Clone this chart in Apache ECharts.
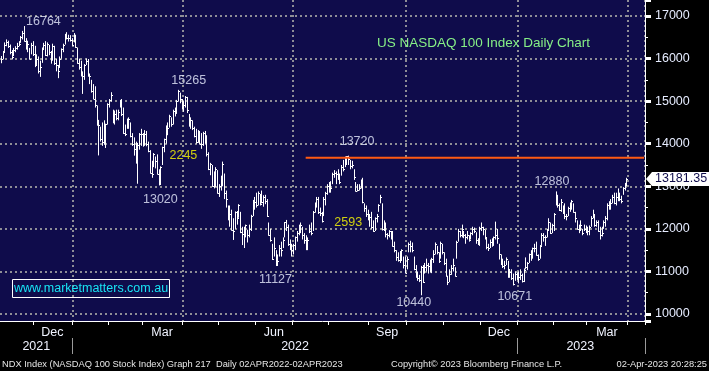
<!DOCTYPE html>
<html><head><meta charset="utf-8">
<script src="https://cdn.jsdelivr.net/npm/echarts@6/dist/echarts.min.js"></script>
<style>html,body{margin:0;padding:0;background:#000;}#c{width:709px;height:371px;}</style>
</head><body><div id="c"></div>
<script>
// ---- calendar (trading days, incl. some blank days after the last bar) ----
const holidays = ['2021-11-25','2021-12-24','2022-01-17','2022-02-21','2022-04-15','2022-05-30','2022-06-20','2022-07-04','2022-09-05','2022-11-24','2022-12-26','2023-01-02','2023-01-16','2023-02-20','2023-04-07'];
const firstDay = '2021-11-03', lastDay = '2023-04-17';

// ---- daily bars, Nov-2021 .. Mar-2023 ----
const closes = [
16000,16150,16330,16400,16300,16150,16030,16200,16250,16300,16350,16500,16600,16420,16300,16350,16000,16330,16100,
15850,16000,15700,15800,16240,16330,16080,16350,16150,15980,16300,15900,15860,15700,16000,16220,16330,16560,16480,16480,16430,16320,
16500,16280,15900,15800,15630,15600,15850,15950,15600,15600,15230,15060,14900,14450,14450,14100,14050,14000,14460,14930,
15020,15140,14500,14700,14600,14750,15020,14700,14250,14230,14560,14580,14170,13990,13870,13550,13980,14220,14240,
13990,14240,13990,13840,13320,13280,13750,13600,13300,13050,13450,13920,14100,14420,14380,14650,14470,14780,14790,15000,15240,15040,14840,
14900,15100,14800,14470,14550,14380,14180,14050,14300,14000,14000,14250,14050,13760,13400,13530,13000,13100,13400,12850,
13000,13100,13530,12850,12700,12250,12350,11970,11940,12390,12260,12560,11930,11880,11850,12080,11850,12000,12300,12650,12640,
12550,12850,12580,12620,12750,12650,12300,11850,11750,11300,11550,11150,11250,11550,11500,11750,12150,12050,11650,11600,11500,
11620,11800,11900,12050,12100,11850,11750,11700,11750,11950,11900,12400,12600,12700,12400,12380,12180,12700,12850,13000,
13000,12950,13300,13320,13280,13250,13100,13450,13400,13650,13700,13650,13480,13500,13220,12900,12920,12970,13150,12620,12500,12350,12270,
12280,12050,11950,12250,12300,12550,12750,12000,12100,11880,11850,11950,11820,11600,11500,11350,11260,11280,11500,11160,10970,
11300,11650,11600,11500,11050,10900,10850,10800,11100,10750,11100,11150,11120,11050,11300,11400,11650,11450,11250,11670,11450,
11200,10900,10750,10950,11080,11150,10900,11700,11950,11850,12000,11850,11800,11850,11750,11900,12000,11950,11750,11650,12030,
12050,12000,11800,11580,11550,11700,11650,11800,11850,11780,11400,11250,11120,11150,11300,11050,10980,10850,10700,10950,10940,
10860,10920,10780,11040,11110,11200,11400,11460,11540,11550,11380,11300,11600,11850,11800,11810,12000,12150,11900,12100,
12350,12800,12570,12450,12620,12390,12300,12300,12500,12550,12650,12400,12250,12000,12000,12080,11900,12000,11980,
11950,12050,12250,12300,12100,12150,11950,11850,11900,12150,12250,12550,12520,12600,12750,12600,12750,12800,12700,12650,12950,13050,13181.35
];
const highs = [
16060,16180,16380,16450,16420,16330,16200,16250,16290,16370,16410,16530,16650,16764,16480,16420,16250,16370,16410,
16300,16100,16050,15950,16260,16370,16410,16380,16320,16180,16350,16300,15990,15850,16050,16240,16350,16580,16620,16560,16550,16480,
16600,16560,16260,16000,15950,15700,15870,16000,15990,15650,15500,15400,15350,14900,14560,14400,14500,14550,14470,14950,
15050,15210,14800,14780,14800,14800,15030,15050,14850,14450,14590,14620,14500,14250,14150,14050,14020,14250,14350,
14250,14320,14300,14050,13850,13600,13780,13700,13750,13400,13470,13930,14120,14430,14500,14680,14620,14800,14850,15030,15265,15200,15050,
15000,15120,15100,14700,14620,14550,14400,14350,14320,14300,14250,14280,14300,14200,13800,13550,13500,13350,13450,13380,
13050,13250,13580,13300,12900,12550,12550,12450,12250,12410,12420,12580,12400,12050,12050,12100,11980,12100,12330,12680,12750,
12850,12880,12820,12900,12790,12800,12700,12150,12000,11650,11800,11500,11400,11620,11700,11800,12160,12210,12100,11750,11650,
11650,11820,11950,12100,12150,12050,11900,11850,11800,12100,12150,12420,12620,12750,12750,12500,12400,12750,12870,13050,
13100,13120,13320,13380,13350,13400,13300,13500,13620,13700,13710,13720,13620,13600,13400,13100,13050,13050,13160,13200,12600,12550,12450,
12350,12400,12200,12270,12350,12580,12800,12600,12200,12150,11900,11970,11950,11950,11700,11500,11450,11480,11520,11350,11350,
11350,11680,11720,11680,11350,11150,11000,10920,11130,11150,11200,11300,11200,11280,11320,11500,11680,11600,11450,11700,11650,
11450,11300,10900,11050,11150,11300,11100,11720,12000,11950,12100,11950,11880,11950,11850,11920,12050,12030,11920,11780,12050,
12150,12050,11980,11800,11650,11750,11780,11820,12170,12000,11650,11400,11300,11250,11330,11250,11050,11050,10950,11000,10980,
11000,11050,10950,11070,11330,11220,11420,11500,11560,11650,11700,11400,11620,11900,11900,11850,12000,12250,12150,12120,
12370,12880,12800,12600,12700,12550,12600,12350,12520,12620,12680,12600,12400,12200,12100,12200,12000,12100,12080,
12050,12080,12300,12450,12350,12200,12200,12050,12050,12200,12300,12600,12650,12700,12800,12850,12850,12950,12850,12780,12980,13080,13200
];
const lows = [
15890,15980,16150,16290,16250,16100,15980,16060,16150,16210,16290,16370,16450,16400,16210,16150,15980,16100,16060,
15800,15850,15650,15570,15900,16200,16060,16050,16080,15880,15950,15850,15700,15540,15780,16000,16150,16330,16450,16400,16400,16300,
16380,16250,15880,15740,15580,15170,15500,15850,15580,15400,15200,15050,14850,14430,13725,14050,13950,13980,13900,14450,
14850,14990,14480,14450,14550,14550,14850,14650,14230,14180,14350,14350,14150,13950,13720,13540,13060,13860,13950,
13930,13950,13940,13800,13300,13200,13450,13420,13280,13020,13050,13500,13800,14000,14200,14380,14400,14450,14640,14700,14990,14950,14800,
14750,14850,14720,14400,14350,14320,14150,14000,14020,13990,13880,13950,14000,13700,13380,13260,12990,12950,12980,12830,
12750,12900,13000,12700,12500,12200,12050,11960,11740,12000,12100,12260,11900,11620,11550,11800,11680,11800,11950,12300,12450,
12500,12550,12550,12600,12520,12580,12280,11840,11700,11270,11350,11127,11130,11350,11350,11550,11800,11950,11600,11500,11350,
11400,11500,11700,11850,11900,11750,11650,11500,11500,11900,11850,11950,12380,12500,12350,12300,12150,12300,12550,12800,
12850,12850,13050,13200,13050,13150,13050,13250,13350,13450,13500,13500,13400,13420,13150,12880,12880,12900,12950,12600,12400,12280,12200,
12050,12000,11930,11950,12150,12400,12600,11960,11950,11800,11750,11800,11750,11580,11450,11250,11230,11200,11250,11070,10960,
11050,11450,11450,11450,11030,10850,10780,10750,10440,10730,10950,11000,10950,10980,10960,11200,11400,11400,11200,11300,11400,
11150,10880,10680,10750,10920,11000,10880,11300,11700,11800,11800,11780,11650,11750,11700,11750,11850,11900,11650,11620,11600,
11950,11850,11750,11520,11480,11550,11580,11600,11750,11650,11280,11150,11080,11050,11150,10850,10850,10800,10671,10780,10800,
10720,10800,10740,10750,11050,11030,11200,11250,11300,11450,11370,11250,11300,11600,11700,11600,11800,11950,11880,11900,
11950,12550,12500,12420,12400,12350,12230,12200,12300,12400,12450,12380,12150,11980,11900,11950,11850,11950,11900,
11850,11850,12050,12250,12050,12050,11930,11750,11820,12000,12050,12200,12450,12450,12600,12580,12550,12650,12650,12600,12800,12900,13000
];
const lastPrice = 13181.35;
const resistanceLevel = 13670;
const yTickMin = 9836, yTickMax = 17376;
const monthNames = {'12':'Dec','03':'Mar','06':'Jun','09':'Sep'};

// annotations: [text, category index, price, colour]
const notes = [
  ['16764', 24, 16860, '#e8eeff'],
  ['15265', 106, 15473, '#e8eeff'],
  ['2245', 103, 13711, '#ffff00'],
  ['13020', 90, 12678, '#e8eeff'],
  ['13720', 201, 14040, '#e8eeff'],
  ['2593', 196, 12138, '#ffff00'],
  ['11127', 155, 10799, '#e8eeff'],
  ['10440', 233, 10258, '#e8eeff'],
  ['10671', 290, 10399, '#e8eeff'],
  ['12880', 311, 13101, '#e8eeff']
];

function tradingDays(a, b) {
  const out = [];
  let d = new Date(a + 'T00:00:00Z');
  const end = new Date(b + 'T00:00:00Z');
  while (d <= end) {
    const wd = d.getUTCDay();
    const s = d.toISOString().slice(0, 10);
    if (wd !== 0 && wd !== 6 && holidays.indexOf(s) < 0) out.push(s);
    d = new Date(d.getTime() + 86400000);
  }
  return out;
}
const cats = tradingDays(firstDay, lastDay);

// month / quarter / year boundaries
const monthStart = new Set(), quarterStart = new Set(), yearStart = new Set();
const monthRanges = {};
cats.forEach((d, i) => {
  const ym = d.slice(0, 7);
  if (!monthRanges[ym]) monthRanges[ym] = [i, i]; else monthRanges[ym][1] = i;
  if (i > 0 && ym !== cats[i - 1].slice(0, 7)) {
    monthStart.add(i);
    const m = d.slice(5, 7);
    if (m === '01' || m === '04' || m === '07' || m === '10') quarterStart.add(i);
    if (m === '01') yearStart.add(i);
  }
});
const monthLabelIdx = new Map();
Object.keys(monthRanges).forEach(ym => {
  const m = ym.slice(5, 7);
  const r = monthRanges[ym];
  if (monthNames[m] && r[0] < closes.length) monthLabelIdx.set(Math.floor((r[0] + r[1]) / 2), monthNames[m]);
});
const yearRanges = {};
cats.forEach((d, i) => { const y = d.slice(0, 4); if (!yearRanges[y]) yearRanges[y] = [i, i]; else yearRanges[y][1] = i; });
const yearLabelIdx = new Map();
Object.keys(yearRanges).forEach(y => { const r = yearRanges[y]; yearLabelIdx.set(Math.floor((r[0] + r[1]) / 2), y); });

const barData = closes.map((c, i) => [i, highs[i], lows[i], c]);

const FONT = 'Liberation Sans';
const gridLine = {color: '#8e8e96', width: 2, type: [2, 3]};

const chart = echarts.init(document.getElementById('c'), null, {renderer: 'canvas'});
chart.setOption({
  animation: false,
  backgroundColor: '#000',
  grid: {left: 0, top: 0, right: 64, bottom: 50, show: true, backgroundColor: '#0f0c4b', borderWidth: 0},
  xAxis: [{
    type: 'category', data: cats, boundaryGap: true,
    axisLine: {show: true, lineStyle: {color: '#ffffff', width: 1}},
    axisTick: {show: true, interval: (i) => monthStart.has(i), length: 4, lineStyle: {color: '#ffffff'}},
    axisLabel: {interval: (i) => monthLabelIdx.has(i), formatter: (v, i) => monthLabelIdx.get(i) || '',
      margin: 5, color: '#f0f3ff', fontSize: 12.5, fontFamily: FONT},
    splitLine: {show: true, interval: (i) => quarterStart.has(i), lineStyle: gridLine}
  }, {
    type: 'category', data: cats, boundaryGap: true, position: 'bottom', offset: 17,
    axisLine: {show: false},
    axisTick: {show: true, interval: (i) => yearStart.has(i), length: 16, lineStyle: {color: '#9a9a9a'}},
    axisLabel: {interval: (i) => yearLabelIdx.has(i), formatter: (v, i) => yearLabelIdx.get(i) || '',
      margin: 2, color: '#f0f3ff', fontSize: 12.5, fontFamily: FONT},
    splitLine: {show: false}
  }],
  yAxis: {
    type: 'value', position: 'right', min: yTickMin, max: yTickMax, splitNumber: 8, scale: true,
    axisLine: {show: true, lineStyle: {color: '#ffffff', width: 1}},
    axisTick: {show: true, length: 6, lineStyle: {color: '#ffffff', width: 3}},
    minorTick: {show: true, splitNumber: 2, length: 3, lineStyle: {color: '#ffffff'}},
    axisLabel: {margin: 10, color: '#e6ecff', fontSize: 12.5, fontFamily: FONT, showMinLabel: false, showMaxLabel: false,
      formatter: (v) => String(Math.round(v))},
    splitLine: {show: true, showMinLine: false, showMaxLine: false, lineStyle: gridLine}
  },
  series: [{
    type: 'custom', xAxisIndex: 0, data: barData, encode: {x: 0, y: [1, 2, 3]}, z: 5,
    renderItem: function (params, api) {
      const idx = api.value(0);
      const h = api.coord([idx, api.value(1)]);
      const l = api.coord([idx, api.value(2)]);
      const c = api.coord([idx, api.value(3)]);
      const px = Math.round(h[0]) + 0.5;
      const cy = Math.round(c[1]) + 0.5;
      return {type: 'group', children: [
        {type: 'line', shape: {x1: px, y1: h[1], x2: px, y2: l[1]}, style: {stroke: '#ffffff', lineWidth: 1}},
        {type: 'line', shape: {x1: px, y1: cy, x2: px + 1.5, y2: cy}, style: {stroke: '#ffffff', lineWidth: 1}}
      ]};
    }
  }, {
    type: 'line', xAxisIndex: 0, symbol: 'none', z: 6,
    data: [[172, resistanceLevel], [cats.length - 1, resistanceLevel]],
    lineStyle: {color: '#ff5a12', width: 2}
  }, {
    type: 'scatter', xAxisIndex: 0, symbolSize: 1, z: 7, itemStyle: {color: 'rgba(0,0,0,0)'},
    data: notes.map(n => ({value: [n[1], n[2]], label: {formatter: n[0], color: n[3]}})),
    label: {show: true, position: 'inside', fontSize: 12.5, fontFamily: FONT}
  }]
});

// texts, watermark and the last-price tag (tag placed through the axis scale)
const py = Math.round(chart.convertToPixel({yAxisIndex: 0}, lastPrice));
chart.setOption({graphic: {elements: [
  {id: 'title', type: 'text', x: 377, y: 43, z: 50, style: {text: 'US NASDAQ 100 Index Daily Chart', fill: '#86f086', font: '13.5px "Liberation Sans"', verticalAlign: 'middle'}},
  {id: 'wmbox', type: 'rect', z: 50, shape: {x: 12.5, y: 279.5, width: 157, height: 18}, style: {fill: 'rgba(0,0,0,0)', stroke: '#ffffff', lineWidth: 1}},
  {id: 'wm', type: 'text', x: 91, y: 289, z: 51, style: {text: 'www.marketmatters.com.au', fill: '#18e4f4', font: '12.5px "Liberation Sans"', align: 'center', verticalAlign: 'middle'}},
  {id: 'f1', type: 'text', x: 2, y: 364, z: 50, style: {text: 'NDX Index (NASDAQ 100 Stock Index) Graph 217  Daily 02APR2022-02APR2023', fill: '#e6e6e6', font: '9.3px "Liberation Sans"', verticalAlign: 'middle'}},
  {id: 'f2', type: 'text', x: 391, y: 364, z: 50, style: {text: 'Copyright\u00a9 2023 Bloomberg Finance L.P.', fill: '#e6e6e6', font: '9.3px "Liberation Sans"', verticalAlign: 'middle'}},
  {id: 'f3', type: 'text', x: 707, y: 364, z: 50, style: {text: '02-Apr-2023 20:28:25', fill: '#e6e6e6', font: '9.3px "Liberation Sans"', align: 'right', verticalAlign: 'middle'}},
  {id: 'tag', type: 'polygon', z: 60, shape: {points: [[646, py], [652, py - 7], [709, py - 7], [709, py + 7], [652, py + 7]]}, style: {fill: '#ffffff'}},
  {id: 'tagtext', type: 'text', z: 61, x: 655, y: py, style: {text: '13181.35', fill: '#0f0c4b', font: '12.5px "Liberation Sans"', verticalAlign: 'middle'}}
]}});
</script>
</body></html>
